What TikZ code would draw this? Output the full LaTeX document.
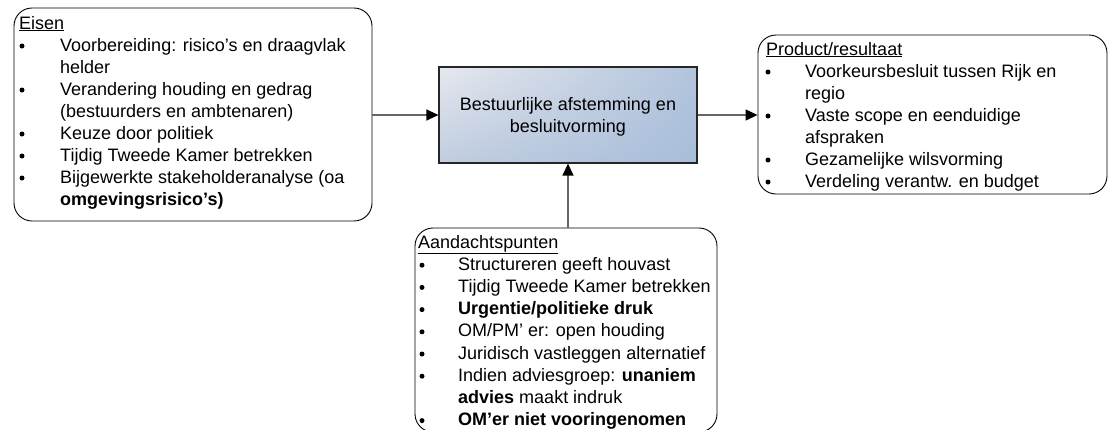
\documentclass[tikz,border=0pt]{standalone}
\usepackage{fontspec}
\setmainfont{Liberation Sans}
\usetikzlibrary{arrows.meta,shadings}
\definecolor{shadeUL}{RGB}{230,232,238}
\definecolor{shadeUR}{RGB}{178,196,220}
\definecolor{shadeLL}{RGB}{192,205,224}
\definecolor{shadeLR}{RGB}{168,189,218}
\begin{document}
\begin{tikzpicture}[x=1pt,y=-1pt,
  roundbox/.style={draw=black, line width=0.9pt, rounded corners=18pt, inner sep=0pt},
  corebox/.style={draw=black!85, line width=1.2pt, inner sep=0pt,
    upper left=shadeUL, upper right=shadeUR, lower left=shadeLL, lower right=shadeLR},
  txt/.style={anchor=base west, inner sep=0pt, font=\fontsize{18}{22}\selectfont},
  ctxt/.style={anchor=base, inner sep=0pt, font=\fontsize{18}{22}\selectfont},
  conn/.style={draw=black!60, line width=1.3pt, -{Triangle[length=12pt,width=11pt,color=black]}},
]
\useasboundingbox (0,0) rectangle (1112,429);
\clip (0,0) rectangle (1112,429);

% --- boxes ---
\node[roundbox, minimum width=358pt, minimum height=213pt] (eisen) at (193,114.5) {};
\node[corebox, minimum width=258pt, minimum height=96pt] (kern) at (568,115) {};
\node[roundbox, minimum width=349pt, minimum height=159pt] (product) at (932.5,114.5) {};
\node[roundbox, minimum width=302pt, minimum height=204pt] (aandacht) at (566,330) {};

% --- central text ---
\node[ctxt] (k1) at (568,110) {Bestuurlijke afstemming en};
\node[ctxt] (k2) at (568,132) {besluitvorming};

% --- connectors ---
\draw[conn] (eisen.east |- kern.west) -- (kern.west);
\draw[conn] (kern.east) -- (product.west |- kern.east);
\draw[conn] (aandacht.north -| kern.south) -- (kern.south);

% --- bullet helper ---
\newcommand{\dotb}[2]{\fill (#1,#2-5) circle (2.5pt);}

% --- Eisen ---
\node[txt] (e0) at (19,29) {\underline{Eisen}};
\dotb{22}{51}\node[txt] (e1) at (60,51) {Voorbereiding: risico’s en draagvlak};
\node[txt] (e1b) at (60,73) {helder};
\dotb{22}{95}\node[txt] (e2) at (60,95) {Verandering houding en gedrag};
\node[txt] (e2b) at (60,117) {(bestuurders en ambtenaren)};
\dotb{22}{139}\node[txt] (e3) at (60,139) {Keuze door politiek};
\dotb{22}{161}\node[txt] (e4) at (60,161) {Tijdig Tweede Kamer betrekken};
\dotb{22}{183}\node[txt] (e5) at (60,183) {Bijgewerkte stakeholderanalyse (oa};
\node[txt] (e5b) at (60,205) {\textbf{omgevingsrisico’s)}};

% --- Product/resultaat ---
\node[txt] (p0) at (766,55) {\underline{Product/resultaat}};
\dotb{768}{77}\node[txt] (p1) at (805,77) {Voorkeursbesluit tussen Rijk en};
\node[txt] (p1b) at (805,99) {regio};
\dotb{768}{121}\node[txt] (p2) at (805,121) {Vaste scope en eenduidige};
\node[txt] (p2b) at (805,143) {afspraken};
\dotb{768}{165}\node[txt] (p3) at (805,165) {Gezamelijke wilsvorming};
\dotb{768}{187}\node[txt] (p4) at (805,187) {Verdeling verantw. en budget};

% --- Aandachtspunten ---
\node[txt] (a0) at (418,248) {\underline{Aandachtspunten}};
\dotb{422}{270.2}\node[txt] (a1) at (458,270.2) {Structureren geeft houvast};
\dotb{422}{292.4}\node[txt] (a2) at (458,292.4) {Tijdig Tweede Kamer betrekken};
\dotb{422}{314.6}\node[txt] (a3) at (458,314.6) {\textbf{Urgentie/politieke druk}};
\dotb{422}{336.8}\node[txt] (a4) at (458,336.8) {OM/PM’ er: open houding};
\dotb{422}{359}\node[txt] (a5) at (458,359) {Juridisch vastleggen alternatief};
\dotb{422}{381.2}\node[txt] (a6) at (458,381.2) {Indien adviesgroep: \textbf{unaniem}};
\node[txt] (a6b) at (458,403.4) {\textbf{advies} maakt indruk};
\dotb{422}{425.6}\node[txt] (a7) at (458,425.6) {\textbf{OM’er niet vooringenomen}};
\end{tikzpicture}
\end{document}
